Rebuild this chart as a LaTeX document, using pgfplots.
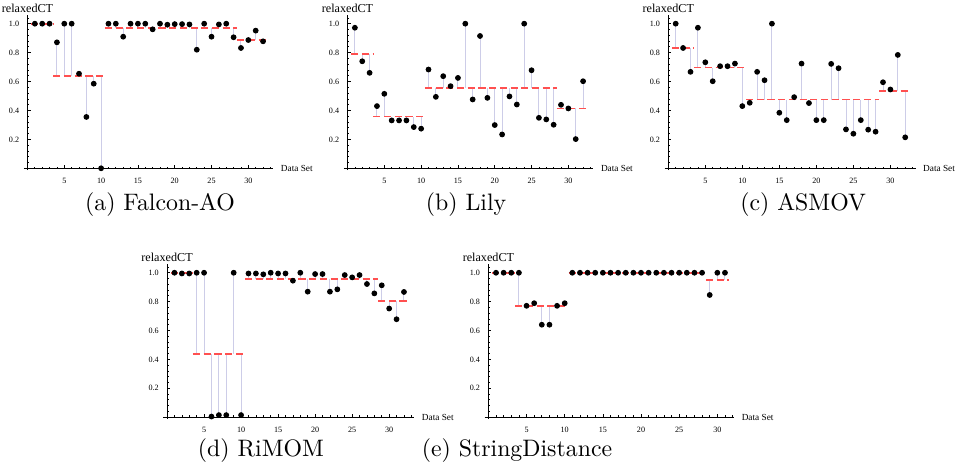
\documentclass[border=0pt]{standalone}
\usepackage{fontspec}
\usepackage{pgfplots}
\usepackage{pgfplotstable}
\pgfplotsset{compat=1.18}
\newfontfamily\mfont{Liberation Serif}

\definecolor{stemc}{RGB}{205,205,232}
\definecolor{meanc}{RGB}{255,80,80}

% x = data set, v = relaxedCT, m = mean of its group
\pgfplotstableread{
x v m
1 1.0 1.0
2 1.0 1.0
3 1.0 1.0
4 0.871 0.638
5 1.0 0.638
6 1.0 0.638
7 0.654 0.638
8 0.355 0.638
9 0.585 0.638
10 0.0 0.638
11 1.0 0.971
12 1.0 0.971
13 0.910 0.971
14 1.0 0.971
15 1.0 0.971
16 1.0 0.971
17 0.961 0.971
18 1.0 0.971
19 0.993 0.971
20 0.997 0.971
21 0.997 0.971
22 0.995 0.971
23 0.820 0.971
24 1.0 0.971
25 0.910 0.971
26 0.995 0.971
27 1.0 0.971
28 0.906 0.971
29 0.832 0.887
30 0.887 0.887
31 0.952 0.887
32 0.878 0.887
}\tFalcon

\pgfplotstableread{
x v m
1 0.972 0.791
2 0.740 0.791
3 0.660 0.791
4 0.430 0.357
5 0.515 0.357
6 0.331 0.357
7 0.331 0.357
8 0.331 0.357
9 0.285 0.357
10 0.274 0.357
11 0.683 0.557
12 0.494 0.557
13 0.637 0.557
14 0.568 0.557
15 0.625 0.557
16 1.0 0.557
17 0.476 0.557
18 0.915 0.557
19 0.487 0.557
20 0.299 0.557
21 0.234 0.557
22 0.497 0.557
23 0.441 0.557
24 1.0 0.557
25 0.678 0.557
26 0.349 0.557
27 0.338 0.557
28 0.301 0.557
29 0.439 0.414
30 0.414 0.414
31 0.202 0.414
32 0.602 0.414
}\tLily

\pgfplotstableread{
x v m
1 1.0 0.833
2 0.832 0.833
3 0.667 0.833
4 0.972 0.696
5 0.733 0.696
6 0.602 0.696
7 0.706 0.696
8 0.706 0.696
9 0.724 0.696
10 0.430 0.696
11 0.453 0.475
12 0.667 0.475
13 0.609 0.475
14 1.0 0.475
15 0.384 0.475
16 0.333 0.475
17 0.492 0.475
18 0.724 0.475
19 0.451 0.475
20 0.333 0.475
21 0.333 0.475
22 0.722 0.475
23 0.692 0.475
24 0.269 0.475
25 0.239 0.475
26 0.333 0.475
27 0.267 0.475
28 0.253 0.475
29 0.595 0.535
30 0.545 0.535
31 0.784 0.535
32 0.214 0.535
}\tAsmov

\pgfplotstableread{
x v m
1 1.0 0.997
2 0.995 0.997
3 0.995 0.997
4 1.0 0.435
5 1.0 0.435
6 0.004 0.435
7 0.014 0.435
8 0.014 0.435
9 1.0 0.435
10 0.014 0.435
11 0.995 0.958
12 0.995 0.958
13 0.989 0.958
14 1.0 0.958
15 0.995 0.958
16 0.995 0.958
17 0.945 0.958
18 1.0 0.958
19 0.869 0.958
20 0.991 0.958
21 0.991 0.958
22 0.869 0.958
23 0.885 0.958
24 0.984 0.958
25 0.968 0.958
26 0.984 0.958
27 0.922 0.958
28 0.857 0.958
29 0.913 0.802
30 0.752 0.802
31 0.678 0.802
32 0.867 0.802
}\tRimom

\pgfplotstableread{
x v m
1 1.0 1.0
2 1.0 1.0
3 1.0 1.0
4 1.0 0.771
5 0.771 0.771
6 0.789 0.771
7 0.640 0.771
8 0.640 0.771
9 0.771 0.771
10 0.789 0.771
11 1.0 1.0
12 1.0 1.0
13 1.0 1.0
14 1.0 1.0
15 1.0 1.0
16 1.0 1.0
17 1.0 1.0
18 1.0 1.0
19 1.0 1.0
20 1.0 1.0
21 1.0 1.0
22 1.0 1.0
23 1.0 1.0
24 1.0 1.0
25 1.0 1.0
26 1.0 1.0
27 1.0 1.0
28 1.0 1.0
29 0.846 0.949
30 1.0 0.949
31 1.0 0.949
}\tString

\pgfplotsset{
  rct/.style={
    scale only axis, anchor=south west,
    axis lines=middle, axis line style={-, line width=0.35pt},
    xmin=-0.5, xmax=33.4, ymin=-0.012, ymax=1.06,
    clip=false,
    xtick={5,10,...,30}, ytick={0.2,0.4,0.6,0.8,1.0},
    minor xtick={1,...,33},
    minor ytick={0.04,0.08,0.12,0.16,0.24,0.28,0.32,0.36,0.44,0.48,0.52,0.56,0.64,0.68,0.72,0.76,0.84,0.88,0.92,0.96,1.04},
    tick align=inside,
    major tick length=1.3pt, minor tick length=0.7pt,
    tick style={black, line width=0.3pt},
    /pgf/number format/assume math mode=true,
    ticklabel style={font=\mfont\fontsize{3.4}{4}\selectfont},
    yticklabel style={/pgf/number format/.cd, fixed, fixed zerofill, precision=1, /tikz/.cd},
    xticklabel style={yshift=-0.5pt},
  },
  stem/.style={stemc, line width=0.4pt, -, no markers, quiver={u=0, v=\thisrow{v}-\thisrow{m}}},
  meanl/.style={meanc, line width=0.7pt, dash pattern=on 3pt off 1.5pt, no markers},
  dots/.style={only marks, mark=*, mark size=1.0pt, black},
}
\newcommand\ylab{\mfont\fontsize{5.1}{6}\selectfont}
\newcommand\xlab{\mfont\fontsize{3.9}{4.5}\selectfont}

\begin{document}
\begin{tikzpicture}
% (a) Falcon-AO
\begin{axis}[rct, at={(10.0pt,-71.4pt)}, width=104.8pt, height=65.1pt]
  \addplot[stem] table[x=x, y=m] {\tFalcon};
  \addplot[meanl] coordinates {(0.5,1.0) (3.5,1.0)};
  \addplot[meanl] coordinates {(3.5,0.638) (10.5,0.638)};
  \addplot[meanl] coordinates {(10.5,0.971) (28.5,0.971)};
  \addplot[meanl] coordinates {(28.5,0.887) (32.5,0.887)};
  \addplot[dots] table[x=x, y=v] {\tFalcon};
  \node[font=\ylab, anchor=south, inner sep=0.8pt] at (axis cs:0,1.06) {relaxedCT};
  \node[font=\xlab, anchor=west, inner sep=0pt, xshift=3pt] at (axis cs:33.4,0) {Data Set};
\end{axis}
% (b) Lily
\begin{axis}[rct, at={(144.4pt,-71.4pt)}, width=104.8pt, height=65.1pt]
  \addplot[stem] table[x=x, y=m] {\tLily};
  \addplot[meanl] coordinates {(0.5,0.791) (3.5,0.791)};
  \addplot[meanl] coordinates {(3.5,0.357) (10.5,0.357)};
  \addplot[meanl] coordinates {(10.5,0.557) (28.5,0.557)};
  \addplot[meanl] coordinates {(28.5,0.414) (32.5,0.414)};
  \addplot[dots] table[x=x, y=v] {\tLily};
  \node[font=\ylab, anchor=south, inner sep=0.8pt] at (axis cs:0,1.06) {relaxedCT};
  \node[font=\xlab, anchor=west, inner sep=0pt, xshift=3pt] at (axis cs:33.4,0) {Data Set};
\end{axis}
% (c) ASMOV
\begin{axis}[rct, at={(279.1pt,-71.4pt)}, width=105.4pt, height=65.1pt]
  \addplot[stem] table[x=x, y=m] {\tAsmov};
  \addplot[meanl] coordinates {(0.5,0.833) (3.5,0.833)};
  \addplot[meanl] coordinates {(3.5,0.696) (10.5,0.696)};
  \addplot[meanl] coordinates {(10.5,0.475) (28.5,0.475)};
  \addplot[meanl] coordinates {(28.5,0.535) (32.5,0.535)};
  \addplot[dots] table[x=x, y=v] {\tAsmov};
  \node[font=\ylab, anchor=south, inner sep=0.8pt] at (axis cs:0,1.06) {relaxedCT};
  \node[font=\xlab, anchor=west, inner sep=0pt, xshift=3pt] at (axis cs:33.4,0) {Data Set};
\end{axis}
% (d) RiMOM
\begin{axis}[rct, at={(68.6pt,-175.9pt)}, width=105.4pt, height=65.0pt]
  \addplot[stem] table[x=x, y=m] {\tRimom};
  \addplot[meanl] coordinates {(0.5,0.997) (3.5,0.997)};
  \addplot[meanl] coordinates {(3.5,0.435) (10.5,0.435)};
  \addplot[meanl] coordinates {(10.5,0.958) (28.5,0.958)};
  \addplot[meanl] coordinates {(28.5,0.802) (32.5,0.802)};
  \addplot[dots] table[x=x, y=v] {\tRimom};
  \node[font=\ylab, anchor=south, inner sep=0.8pt] at (axis cs:0,1.06) {relaxedCT};
  \node[font=\xlab, anchor=west, inner sep=0pt, xshift=3pt] at (axis cs:33.4,0) {Data Set};
\end{axis}
% (e) StringDistance
\begin{axis}[rct, at={(203.5pt,-175.9pt)}, width=104.8pt, height=65.0pt, xmax=32.2,
    minor xtick={1,...,32}]
  \addplot[stem] table[x=x, y=m] {\tString};
  \addplot[meanl] coordinates {(0.5,1.0) (3.5,1.0)};
  \addplot[meanl] coordinates {(3.5,0.771) (10.5,0.771)};
  \addplot[meanl] coordinates {(10.5,1.0) (28.5,1.0)};
  \addplot[meanl] coordinates {(28.5,0.949) (31.5,0.949)};
  \addplot[dots] table[x=x, y=v] {\tString};
  \node[font=\ylab, anchor=south, inner sep=0.8pt] at (axis cs:0,1.06) {relaxedCT};
  \node[font=\xlab, anchor=west, inner sep=0pt, xshift=3pt] at (axis cs:32.2,0) {Data Set};
\end{axis}
% captions
\node[anchor=base] at (67.2pt,-88.3pt) {(a) Falcon-AO};
\node[anchor=base] at (195.7pt,-88.3pt) {(b) Lily};
\node[anchor=base] at (337.3pt,-88.3pt) {(c) ASMOV};
\node[anchor=base] at (109.6pt,-191.5pt) {(d) RiMOM};
\node[anchor=base] at (217.1pt,-191.5pt) {(e) StringDistance};
\pgfresetboundingbox
\path[use as bounding box] (0pt,0pt) rectangle (401.9pt,-198.7pt);
\end{tikzpicture}
\end{document}
